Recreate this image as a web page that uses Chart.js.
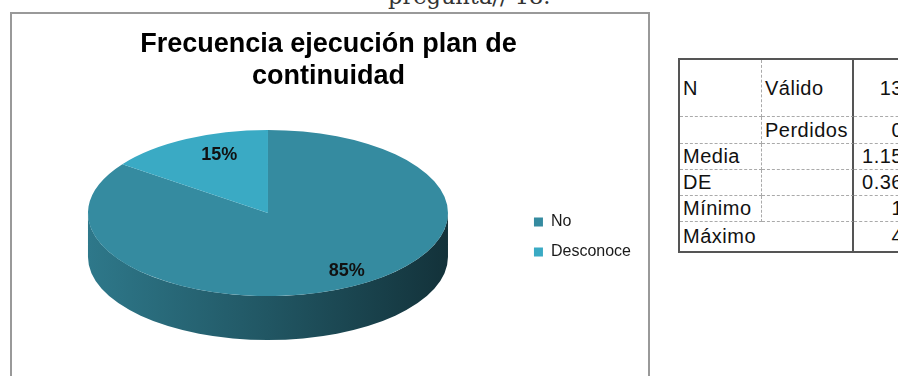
<!DOCTYPE html>
<html lang="es">
<head>
<meta charset="utf-8">
<script src="https://cdn.jsdelivr.net/npm/chart.js@4.4.1/dist/chart.umd.min.js"></script>
<style>
  body {
    margin: 0;
    width: 898px;
    height: 376px;
    overflow: hidden;
    position: relative;
    background: #fff;
    font-family: "Liberation Sans", Arial, sans-serif;
  }
  #caption {
    position: absolute;
    left: 388px;
    top: -15px;
    font-family: "DejaVu Serif", serif;
    font-size: 22.5px;
    line-height: 22px;
    color: #333;
    white-space: nowrap;
  }
  #chartBox {
    position: absolute;
    left: 10px;
    top: 12px;
    width: 636px;
    height: 380px;
    border: 2px solid #999;
  }
  #chartBox canvas {
    position: absolute;
    left: 0;
    top: 0;
  }
  #stats {
    position: absolute;
    left: 678px;
    top: 58px;
    width: 229px;
    border-collapse: separate;
    border-spacing: 0;
    table-layout: fixed;
    border-top: 2px solid #555;
    border-left: 2px solid #555;
    border-bottom: 2px solid #555;
    font-size: 20px;
    letter-spacing: 0.5px;
    color: #111;
  }
  #stats td {
    padding: 0 3px;
    border-right: 1px dashed #aaa;
    border-bottom: 1px dashed #aaa;
    white-space: nowrap;
    overflow: hidden;
  }
  #stats tr:last-child td { border-bottom: none; }
  #stats td.sub { border-right: 2px solid #555; }
  #stats td.val { text-align: right; padding-right: 5px; }
</style>
</head>
<body>
<div id="caption">pregunta// 18.</div>
<div id="chartBox"><canvas id="pieChart" width="636" height="362"></canvas></div>
<table id="stats">
  <colgroup><col style="width:82px"><col style="width:92px"><col style="width:55px"></colgroup>
  <tbody></tbody>
</table>
<script>
// Frequency of the continuity plan, in percent
const answers = ['No', 'Desconoce'];
const percents = [85, 15];
const sliceColors = ['#358BA0', '#3AAAC4'];

// Descriptive statistics table
const statNames = ['N', '', 'Media', 'DE', 'Mínimo', 'Máximo'];
const statSubs = ['Válido', 'Perdidos', '', '', '', null];
const statValues = ['13', '0', '1.15', '0.36', '1', '4'];
const rowHeights = [57, 27, 26, 26, 26, 29];

const tbody = document.querySelector('#stats tbody');
statNames.forEach((name, i) => {
    const tr = document.createElement('tr');
    tr.style.height = rowHeights[i] + 'px';
    const first = document.createElement('td');
    first.textContent = name;
    tr.appendChild(first);
    if (statSubs[i] === null) {
        first.colSpan = 2;
        first.className = 'sub';
    } else {
        const sub = document.createElement('td');
        sub.textContent = statSubs[i];
        sub.className = 'sub';
        tr.appendChild(sub);
    }
    const val = document.createElement('td');
    val.textContent = statValues[i];
    val.className = 'val';
    tr.appendChild(val);
    tbody.appendChild(tr);
});

/*************************************************
 * Tilted pie with a rim                         *
 *************************************************/
const tilt = 83 / 180;      // vertical squash of the pie face
const rimDepth = 44;        // thickness of the rim
const faceCenterY = 199;    // canvas y of the face centre
const labelReach = 0.78;    // where the percent labels sit along the radius
const labelShiftX = 15;     // labels lean a little to the right

function shade(hex, f) {
    const n = parseInt(hex.slice(1), 16);
    const r = Math.round(((n >> 16) & 255) * f);
    const g = Math.round(((n >> 8) & 255) * f);
    const b = Math.round((n & 255) * f);
    return `rgb(${r},${g},${b})`;
}

const pie3d = {
    id: 'pie3d',
    beforeDatasetsDraw(chart) {
        const ctx = chart.ctx;
        const arcs = chart.getDatasetMeta(0).data;
        if (!arcs.length) return;
        const cx = arcs[0].x;
        const cy = arcs[0].y;
        const r = arcs[0].outerRadius;
        const ry = r * tilt;
        const colors = chart.data.datasets[0].backgroundColor;

        // rim: only the front half (angles 0..PI) shows
        arcs.forEach((arc, i) => {
            [0, -2 * Math.PI, 2 * Math.PI].forEach(shift => {
                const a0 = Math.max(arc.startAngle + shift, 0);
                const a1 = Math.min(arc.endAngle + shift, Math.PI);
                if (a1 <= a0) return;
                const grad = ctx.createLinearGradient(cx - r, 0, cx + r, 0);
                grad.addColorStop(0, shade(colors[i], 0.86));
                grad.addColorStop(0.5, shade(colors[i], 0.62));
                grad.addColorStop(1, shade(colors[i], 0.36));
                ctx.beginPath();
                ctx.ellipse(cx, faceCenterY, r, ry, 0, a0, a1);
                ctx.ellipse(cx, faceCenterY + rimDepth, r, ry, 0, a1, a0, true);
                ctx.closePath();
                ctx.fillStyle = grad;
                ctx.fill();
            });
        });

        // squash the face
        ctx.save();
        ctx.translate(0, faceCenterY);
        ctx.scale(1, tilt);
        ctx.translate(0, -cy);
    },
    afterDatasetsDraw(chart) {
        const ctx = chart.ctx;
        ctx.restore();
        const arcs = chart.getDatasetMeta(0).data;
        const values = chart.data.datasets[0].data;
        const total = values.reduce((a, b) => a + b, 0);
        ctx.save();
        ctx.font = 'bold 18px "Liberation Sans", Arial, sans-serif';
        ctx.fillStyle = '#111';
        ctx.textAlign = 'center';
        ctx.textBaseline = 'middle';
        arcs.forEach((arc, i) => {
            const mid = (arc.startAngle + arc.endAngle) / 2;
            const lx = arc.x + labelShiftX + Math.cos(mid) * arc.outerRadius * labelReach;
            const ly = faceCenterY + Math.sin(mid) * arc.outerRadius * tilt * labelReach;
            ctx.fillText(Math.round(values[i] / total * 100) + '%', lx, ly);
        });
        ctx.restore();
    }
};

const pieCanvas = document.getElementById('pieChart');
const pieChart = new Chart(pieCanvas.getContext('2d'), {
    type: 'pie',
    data: {
        labels: answers,
        datasets: [{
            data: percents,
            backgroundColor: sliceColors,
            borderWidth: 0,
            radius: 180,
            clip: false
        }]
    },
    options: {
        responsive: false,
        animation: false,
        devicePixelRatio: 1,
        events: [],
        layout: {
            padding: { left: 4, right: 7, top: 0, bottom: 0 }
        },
        plugins: {
            title: {
                display: true,
                text: ['Frecuencia ejecución plan de', 'continuidad'],
                color: '#000',
                font: {
                    family: 'Liberation Sans',
                    size: 27,
                    weight: 'bold',
                    lineHeight: 1.17
                },
                padding: { top: 15, bottom: 6 }
            },
            legend: {
                position: 'right',
                align: 'center',
                fullSize: false,
                labels: {
                    boxWidth: 9,
                    boxHeight: 9,
                    padding: 14,
                    color: '#1a1a1a',
                    font: {
                        family: 'Liberation Sans',
                        size: 16
                    }
                }
            },
            tooltip: { enabled: false }
        }
    },
    plugins: [pie3d]
});
</script>
</body>
</html>
